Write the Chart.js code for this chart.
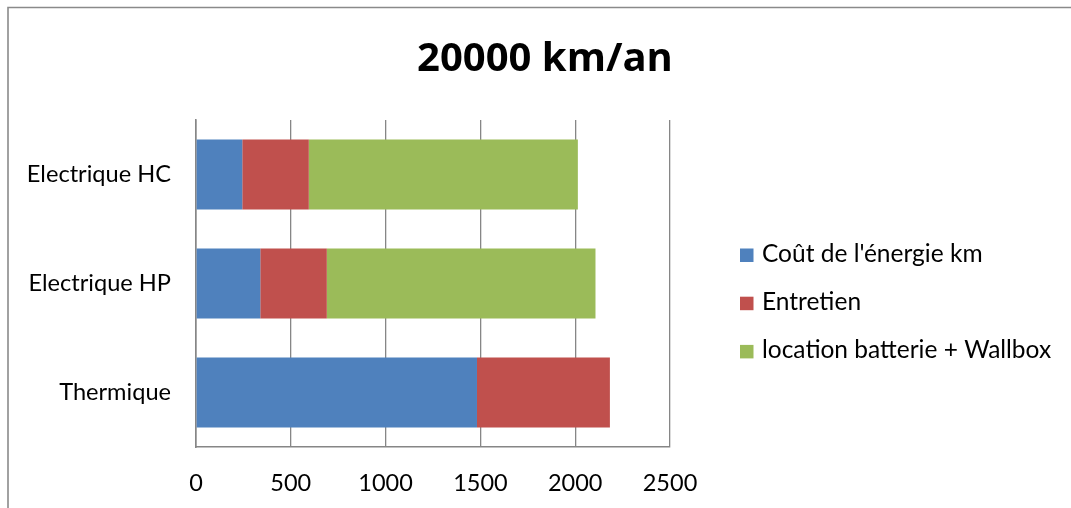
<!DOCTYPE html>
<html>
<head>
<meta charset="utf-8">
<script src="https://cdn.jsdelivr.net/npm/chart.js@4"></script>
<style>
  html, body { margin: 0; padding: 0; background: #fff; }
  #wrap { width: 1071px; height: 508px; position: relative; }
</style>
</head>
<body>
<div id="wrap"><canvas id="c" width="1071" height="508"></canvas></div>
<script>
// Annual cost per vehicle type at 20000 km/year
const chartTitle = '20000 km/an';
const categories = ['Electrique HC', 'Electrique HP', 'Thermique'];
const seriesNames = ["Coût de l'énergie km", 'Entretien', 'location batterie + Wallbox'];
const energie = [244, 339, 1482];
const entretien = [351, 351, 701];
const locationBatterie = [1419, 1417, 0];
const xTicks = [0, 500, 1000, 1500, 2000, 2500];

const colors = ['#4F81BD', '#C0504D', '#9BBB59'];
const gridColor = '#868686';
const bodyFont = 'Lato';

// Outer frame (top and left edges visible)
const framePlugin = {
  id: 'frame',
  beforeDraw(chart) {
    const ctx = chart.ctx;
    ctx.save();
    ctx.strokeStyle = '#8a8a8a';
    ctx.lineWidth = 1.6;
    ctx.beginPath();
    ctx.moveTo(8, chart.height + 2);
    ctx.lineTo(8, 7.5);
    ctx.lineTo(chart.width + 2, 7.5);
    ctx.stroke();
    ctx.restore();
  }
};

// Title centred over the whole figure
const titlePlugin = {
  id: 'figTitle',
  afterDraw(chart) {
    const ctx = chart.ctx;
    ctx.save();
    ctx.font = 'bold 40px "Open Sans"';
    ctx.fillStyle = '#000';
    ctx.textAlign = 'center';
    ctx.textBaseline = 'alphabetic';
    ctx.fillText(chartTitle, 545, 71);
    ctx.restore();
  }
};

// Legend at the right, one row per dataset
const legendPlugin = {
  id: 'sideLegend',
  afterDraw(chart) {
    const ctx = chart.ctx;
    ctx.save();
    ctx.font = '24.5px ' + bodyFont;
    ctx.textAlign = 'left';
    ctx.textBaseline = 'alphabetic';
    chart.data.datasets.forEach((ds, i) => {
      const base = 262 + i * 48.2;
      ctx.fillStyle = ds.backgroundColor;
      ctx.fillRect(740, base - 13.5, 13.5, 13.5);
      ctx.fillStyle = '#000';
      ctx.fillText(ds.label, 762, base);
    });
    ctx.restore();
  }
};

const seriesValues = [energie, entretien, locationBatterie];

new Chart(document.getElementById('c'), {
  type: 'bar',
  data: {
    labels: categories,
    datasets: seriesNames.map((name, i) => ({
      label: name,
      data: seriesValues[i],
      backgroundColor: colors[i],
      borderWidth: 0,
      barPercentage: 0.642,
      categoryPercentage: 1
    }))
  },
  options: {
    indexAxis: 'y',
    responsive: false,
    animation: false,
    layout: { padding: { top: 120, left: 0, right: 401, bottom: 0 } },
    plugins: {
      legend: { display: false },
      title: { display: false },
      tooltip: { enabled: false }
    },
    scales: {
      x: {
        stacked: true,
        min: 0,
        max: 2500,
        afterBuildTicks(scale) { scale.ticks = xTicks.map(v => ({ value: v })); },
        afterFit(scale) { scale.height = 61; },
        grid: { color: gridColor, lineWidth: 1.3, drawTicks: false },
        border: { display: true, color: gridColor, width: 1.6 },
        ticks: {
          color: '#000',
          font: { family: bodyFont, size: 23.5 },
          padding: 22,
          maxRotation: 0,
          callback: (v) => String(v)
        }
      },
      y: {
        stacked: true,
        afterFit(scale) { scale.width = 196; },
        grid: { display: true, drawOnChartArea: false, drawTicks: false },
        border: { display: true, color: gridColor, width: 1.6 },
        ticks: {
          color: '#000',
          font: { family: bodyFont, size: 23.6 },
          padding: 25
        }
      }
    }
  },
  plugins: [framePlugin, titlePlugin, legendPlugin]
});
</script>
</body>
</html>
